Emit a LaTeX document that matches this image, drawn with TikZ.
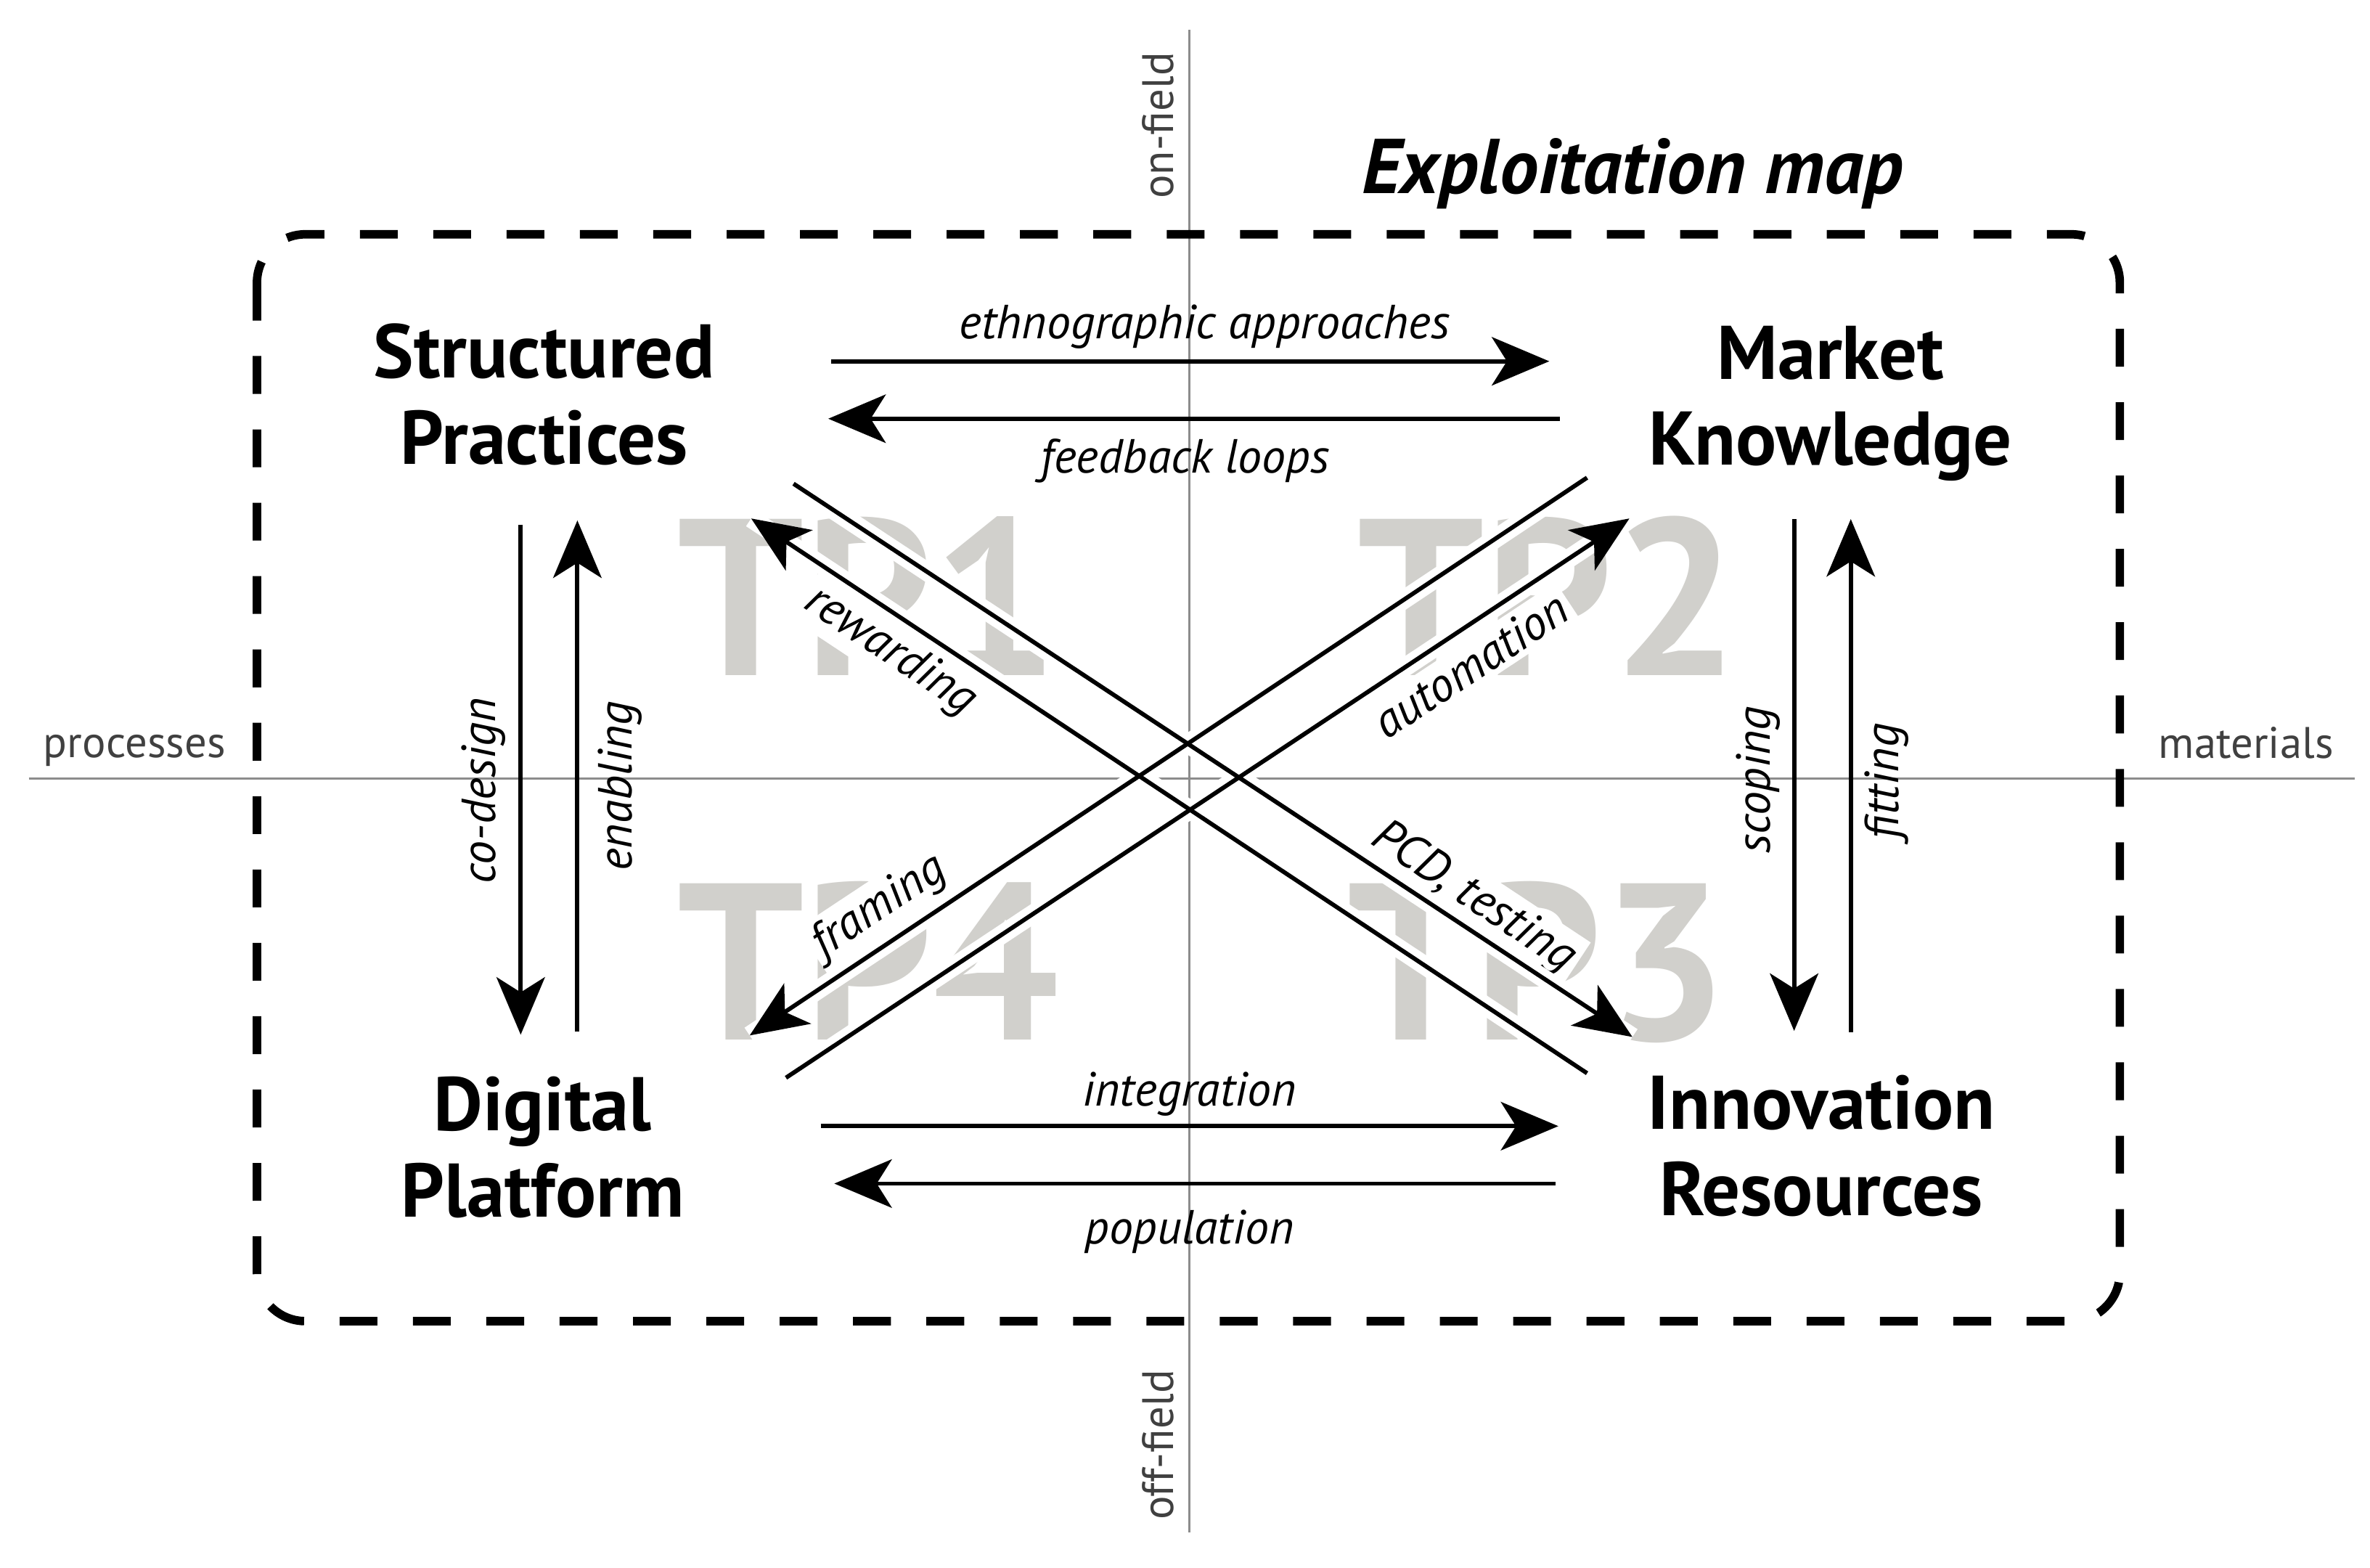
\documentclass[tikz,border=0pt]{standalone}
\usepackage{fontspec}
\setmainfont{PT Sans}
\usepackage{xcolor}
\usetikzlibrary{arrows.meta}
\definecolor{tpgray}{RGB}{209,208,204}

\begin{document}
\begin{tikzpicture}[x=0.01cm, y=-0.01cm, line width=.8pt]
    \tikzstyle{fr}=[line width=1.6pt, dash pattern=on .25cm off .235cm, rounded corners=.32cm]
    \tikzstyle{ax}=[line width=.4pt, black!45]
    \tikzstyle{arr}=[-{Stealth[length=.38cm, width=.32cm, inset=.1cm]}]
    \tikzstyle{halo}=[white, line width=3.5pt]
    \tikzstyle{hd}=[font=\bfseries\fontsize{14.3}{16.2}\selectfont, align=center, inner sep=0pt]
    \tikzstyle{tp}=[font=\bfseries\fontsize{42}{42}\selectfont, text=tpgray, anchor=base west, inner sep=0pt]
    \tikzstyle{axl}=[font=\fontsize{8.3}{10}\selectfont, text=black!75, inner sep=0pt, anchor=base]
    \tikzstyle{lb}=[font=\itshape\fontsize{9}{10}\selectfont, inner sep=1pt]
    \tikzstyle{dl}=[lb, fill=white]
    \useasboundingbox (0,0) rectangle (1568,1037.3);
    % quadrant marks
    \node[tp] (tp1) at (447,447) {TP1};
    \node[tp] (tp2) at (897,447) {TP2};
    \node[tp] (tp4) at (447,688) {TP4};
    \node[tp] (tp3) at (890,688) {TP3};
    % axes
    \coordinate (axw) at (19,515);
    \coordinate (axe) at (1558,515);
    \coordinate (axn) at (787,19.5);
    \coordinate (axs) at (787,1014);
    \draw[ax] (axw) -- (axe);
    \draw[ax] (axn) -- (axs);
    \node[axl] (proc) at (89,501) {processes};
    \node[axl] (mat) at (1486,501.7) {materials};
    \node[axl, rotate=90] (onf) at (776.4,83) {on-field};
    \node[axl, rotate=90] (offf) at (776.4,956) {off-field};
    % frame
    \draw[fr] (170,155) rectangle (1402.5,874);
    \node[font=\bfseries\itshape\fontsize{14.6}{16}\selectfont, anchor=base, inner sep=0pt] (title) at (1080,128) {Exploitation map};
    % the four poles
    \node[hd] (sp) at (360,261) {Structured\\Practices};
    \node[hd] (mk) at (1211,267) {Market\\Knowledge};
    \node[hd] (dpl) at (359,759) {Digital\\Platform};
    \node[hd] (ir) at (1205,758) {Innovation\\Resources};
    % arrow ends
    \coordinate (sp1) at (550,239);   \coordinate (mk1) at (1025,239);
    \coordinate (mk2) at (1032,277);  \coordinate (sp2) at (548,277);
    \coordinate (dp1) at (543,745);   \coordinate (ir1) at (1031,745);
    \coordinate (ir2) at (1029,783);  \coordinate (dp2) at (552,783);
    \coordinate (sp3) at (344.5,347); \coordinate (dp3) at (344.5,684.5);
    \coordinate (dp4) at (382,682.6); \coordinate (sp4) at (382,344.3);
    \coordinate (mk3) at (1187,343.4); \coordinate (ir3) at (1187,682);
    \coordinate (ir4) at (1224.5,682.7); \coordinate (mk4) at (1224.5,343.4);
    \coordinate (sp5) at (525,320);   \coordinate (ir5) at (1080,686);
    \coordinate (ir6) at (1050,710);  \coordinate (sp6) at (497,343);
    \coordinate (dp5) at (520,713);   \coordinate (mk5) at (1078,343);
    \coordinate (mk6) at (1050,316);  \coordinate (dp6) at (496,685);
    % labels
    \node[lb] (ethno) at (797,216) {ethnographic approaches};
    \node[lb] (feed) at (784,305) {feedback loops};
    \node[lb] (integ) at (787,724) {integration};
    \node[lb] (popul) at (787,815) {population};
    \node[lb, rotate=90] (codes) at (320,523) {co-design};
    \node[lb, rotate=90] (enabl) at (410,520) {enabling};
    \node[lb, rotate=90] (scop) at (1163,516) {scoping};
    \node[lb, rotate=90] (fitt) at (1248,517) {fitting};
    \node[dl, rotate=-33.5] (rew) at (589,431) {rewarding};
    \node[dl, rotate=33.5] (autom) at (973,440) {automation};
    \node[dl, rotate=33.5] (fram) at (582,600) {framing};
    \node[dl, rotate=-33.5] (pcd) at (975,594) {PCD, testing};
    % connectors
    \foreach \a/\b in {sp5/ir5, ir6/sp6, dp5/mk5, mk6/dp6}
        \draw[halo] (\a) -- (\b);
    \foreach \a/\b in {sp1/mk1, mk2/sp2, dp1/ir1, ir2/dp2, sp3/dp3, dp4/sp4,
                       mk3/ir3, ir4/mk4, sp5/ir5, ir6/sp6, dp5/mk5, mk6/dp6}
        \draw[arr] (\a) -- (\b);
\end{tikzpicture}
\end{document}
